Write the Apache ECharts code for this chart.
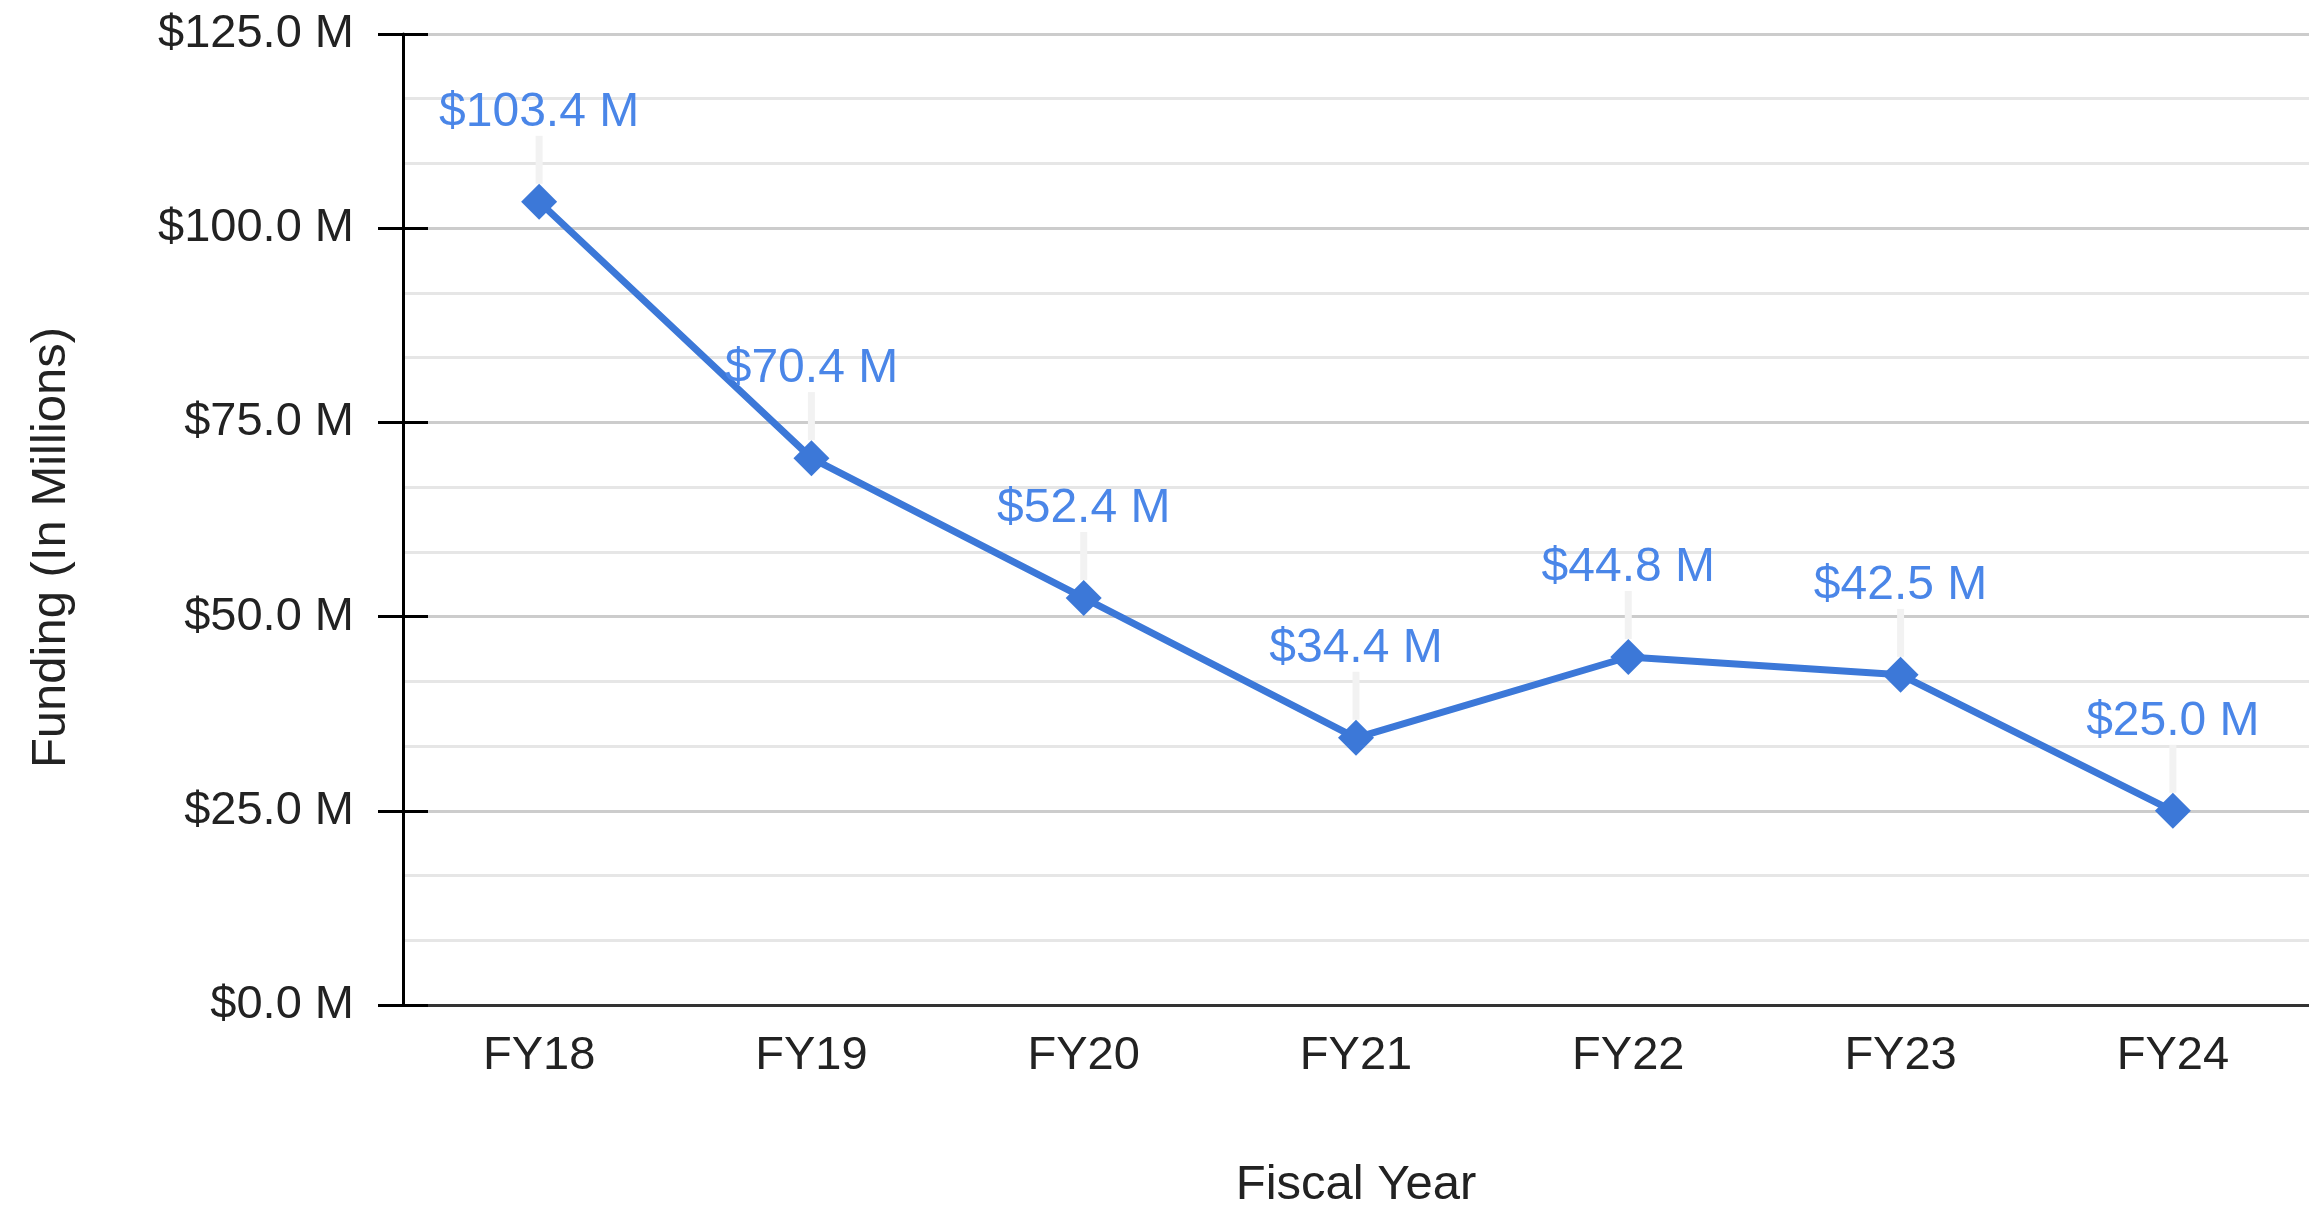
<!DOCTYPE html>
<html>
<head>
<meta charset="utf-8">
<script src="https://cdn.jsdelivr.net/npm/echarts@6/dist/echarts.min.js"></script>
<style>
  html, body { margin: 0; padding: 0; background: #fff; }
  #chart { width: 2309px; height: 1209px; }
</style>
</head>
<body>
<div id="chart"></div>
<script>
const years = ["FY18", "FY19", "FY20", "FY21", "FY22", "FY23", "FY24"];
const funding = [103.4, 70.4, 52.4, 34.4, 44.8, 42.5, 25.0];
const yTicks = [0, 25, 50, 75, 100, 125];

const font = "'Liberation Sans', Arial, sans-serif";
const money = v => "$" + Number(v).toFixed(1) + " M";

const chart = echarts.init(document.getElementById("chart"));
const yMin = yTicks[0];
const yMax = yTicks[yTicks.length - 1];
const yStep = yTicks[1] - yTicks[0];

const option = {
  animation: false,
  backgroundColor: "#fff",
  textStyle: { fontFamily: font },
  grid: { left: 403, right: 0, top: 34, bottom: 204, outerBoundsMode: "none", containLabel: false },
  xAxis: {
    type: "category",
    data: years,
    boundaryGap: true,
    name: "Fiscal Year",
    nameLocation: "middle",
    nameGap: 156,
    nameTextStyle: { color: "#222", fontSize: 49, fontFamily: font },
    axisLine: { show: true, lineStyle: { color: "#333", width: 3 } },
    axisTick: { show: false },
    axisLabel: { color: "#222", fontSize: 47, margin: 28, fontFamily: font },
    splitLine: { show: false }
  },
  yAxis: [
    {
      type: "value",
      min: yMin,
      max: yMax,
      interval: yStep,
      name: "Funding (In Millions)",
      nameLocation: "middle",
      nameGap: 327,
      nameTextStyle: { color: "#222", fontSize: 49, fontFamily: font, padding: [0, 56, 0, 0] },
      axisLine: { show: true, lineStyle: { color: "#000", width: 3 } },
      axisTick: { show: true, length: 25, lineStyle: { color: "#000", width: 3 } },
      axisLabel: { color: "#222", fontSize: 47, margin: 49, fontFamily: font, formatter: money },
      splitLine: { show: true, lineStyle: { color: "#cccccc", width: 3 } },
      minorTick: { show: false, splitNumber: 3 },
      minorSplitLine: { show: true, lineStyle: { color: "#e6e6e6", width: 3 } }
    },
    {
      type: "value",
      min: yMin,
      max: yMax,
      interval: yStep,
      position: "left",
      axisLine: { show: false },
      axisTick: { show: true, inside: true, length: 25, lineStyle: { color: "#000", width: 3 } },
      axisLabel: { show: false },
      splitLine: { show: false }
    }
  ],
  series: [
    {
      type: "custom",
      z: 1,
      silent: true,
      data: funding.map((v, i) => [i, v]),
      renderItem: (params, api) => {
        const p = api.coord([api.value(0), api.value(1)]);
        return {
          type: "line",
          shape: { x1: p[0], y1: p[1] - 18, x2: p[0], y2: p[1] - 66 },
          style: { stroke: "#f2f2f2", lineWidth: 7 }
        };
      }
    },
    {
      type: "line",
      z: 3,
      data: funding,
      symbol: "diamond",
      symbolSize: 36,
      lineStyle: { color: "#3c78d8", width: 7 },
      itemStyle: { color: "#3c78d8" },
      label: {
        show: true,
        position: "top",
        distance: 47,
        color: "#4a86e8",
        fontSize: 48,
        fontFamily: font,
        formatter: p => money(p.value)
      }
    }
  ]
};

chart.setOption(option);
</script>
</body>
</html>
